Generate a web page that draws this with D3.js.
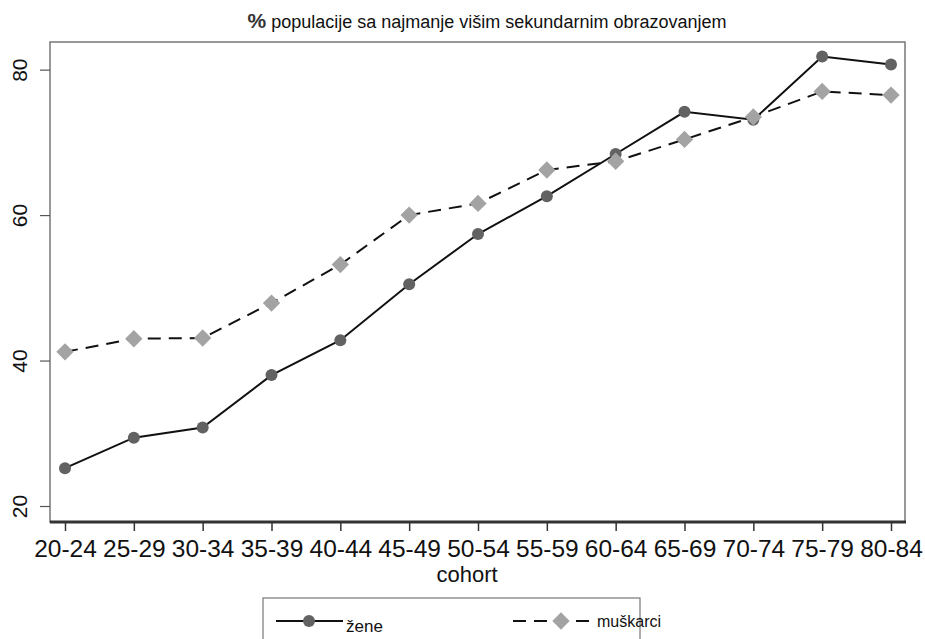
<!DOCTYPE html>
<html>
<head>
<meta charset="utf-8">
<style>
  body { margin: 0; background: #fff; }
  svg { display: block; font-family: 'Liberation Sans', Arial, sans-serif; }
  .x .domain, .y .domain { display: none; }
  .x .tick line { stroke: #333; stroke-width: 1.5; }
  .y .tick line { stroke: #555; stroke-width: 1.2; }
  .x .tick text { font-size: 24.5px; fill: #111; }
  .y .tick text { font-size: 21px; fill: #111; }
</style>
</head>
<body>
<svg width="925" height="639"></svg>
<script src="https://d3js.org/d3.v7.min.js"></script>
<script>
const cohorts = ["20-24", "25-29", "30-34", "35-39", "40-44", "45-49", "50-54",
                 "55-59", "60-64", "65-69", "70-74", "75-79", "80-84"];
const zene = [25.2, 29.4, 30.8, 38.0, 42.8, 50.5, 57.4, 62.6, 68.4, 74.2, 73.1, 81.8, 80.7];
const muskarci = [41.2, 43.0, 43.1, 47.9, 53.2, 60.0, 61.6, 66.2, 67.4, 70.4, 73.5, 77.0, 76.5];
const yTicks = [20, 40, 60, 80];

const svg = d3.select("svg");
const frame = { left: 50, right: 905, top: 42, bottom: 522 };

const x = d3.scalePoint()
  .domain(cohorts)
  .range([65, 891]);

const y = d3.scaleLinear()
  .domain([17.8, 83.8])
  .range([frame.bottom, frame.top]);

// frame
svg.append("rect")
  .attr("x", frame.left)
  .attr("y", frame.top)
  .attr("width", frame.right - frame.left)
  .attr("height", frame.bottom - frame.top)
  .attr("fill", "none")
  .attr("stroke", "#777")
  .attr("stroke-width", 1.5);

svg.append("line")
  .attr("x1", frame.left).attr("x2", frame.right + 1)
  .attr("y1", frame.bottom).attr("y2", frame.bottom)
  .attr("stroke", "#333")
  .attr("stroke-width", 3);

// axes
svg.append("g")
  .attr("class", "x axis")
  .attr("transform", `translate(0,${frame.bottom})`)
  .call(d3.axisBottom(x).tickSize(9).tickPadding(3))
  .selectAll("text")
  .attr("y", 35)
  .attr("dy", 0);

svg.append("g")
  .attr("class", "y axis")
  .attr("transform", `translate(${frame.left},0)`)
  .call(d3.axisLeft(y).tickValues(yTicks).tickSize(10))
  .selectAll("text")
  .attr("text-anchor", "middle")
  .attr("transform", "rotate(-90)")
  .attr("x", 0)
  .attr("y", -23)
  .attr("dy", 0);

// title
const title = svg.append("text")
  .attr("x", 487)
  .attr("y", 28)
  .attr("text-anchor", "middle")
  .attr("font-size", 18)
  .attr("fill", "#111");
title.append("tspan").attr("font-size", 21).attr("font-weight", "bold").attr("fill", "#333").text("%");
title.append("tspan").text(" populacije sa najmanje višim sekundarnim obrazovanjem");

// axis title
svg.append("text")
  .attr("x", 467)
  .attr("y", 582)
  .attr("text-anchor", "middle")
  .attr("font-size", 22)
  .attr("fill", "#111")
  .text("cohort");

// lines
const line = d3.line()
  .x((d, i) => x(cohorts[i]))
  .y(d => y(d));

svg.append("path")
  .datum(muskarci)
  .attr("d", line)
  .attr("fill", "none")
  .attr("stroke", "#111")
  .attr("stroke-width", 2)
  .attr("stroke-dasharray", "13,8");

svg.append("path")
  .datum(zene)
  .attr("d", line)
  .attr("fill", "none")
  .attr("stroke", "#111")
  .attr("stroke-width", 2);

const diamond = d3.symbol().type(d3.symbolSquare).size(150);

svg.append("g")
  .selectAll("circle")
  .data(zene)
  .join("circle")
  .attr("cx", (d, i) => x(cohorts[i]))
  .attr("cy", d => y(d))
  .attr("r", 6)
  .attr("fill", "#626262");

svg.append("g")
  .selectAll("path")
  .data(muskarci)
  .join("path")
  .attr("d", diamond)
  .attr("transform", (d, i) => `translate(${x(cohorts[i])},${y(d)}) rotate(45)`)
  .attr("fill", "#a3a3a3");

// legend
const lg = svg.append("g");
lg.append("rect")
  .attr("x", 263).attr("y", 598)
  .attr("width", 377).attr("height", 60)
  .attr("fill", "none")
  .attr("stroke", "#777")
  .attr("stroke-width", 1.2);

lg.append("line")
  .attr("x1", 276).attr("x2", 343).attr("y1", 621).attr("y2", 621)
  .attr("stroke", "#111").attr("stroke-width", 2);
lg.append("circle")
  .attr("cx", 309).attr("cy", 621).attr("r", 6).attr("fill", "#626262");
lg.append("text")
  .attr("x", 346).attr("y", 632)
  .attr("font-size", 17).attr("fill", "#111")
  .text("žene");

lg.append("line")
  .attr("x1", 513).attr("x2", 592).attr("y1", 621).attr("y2", 621)
  .attr("stroke", "#111").attr("stroke-width", 2)
  .attr("stroke-dasharray", "13,8");
lg.append("path")
  .attr("d", diamond)
  .attr("transform", "translate(561,621) rotate(45)")
  .attr("fill", "#a3a3a3");
lg.append("text")
  .attr("x", 597).attr("y", 627)
  .attr("font-size", 16).attr("fill", "#111")
  .text("muškarci");
</script>
</body>
</html>
